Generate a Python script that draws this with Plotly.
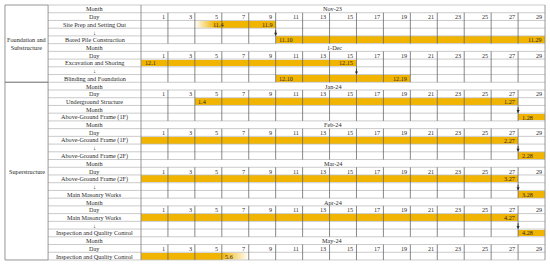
import plotly.graph_objects as go

# ---------------- data ----------------
row_labels = ["Month", "Day", "Site Prep and Setting Out", "↓", "Bored Pile Construction",
              "Month", "Day", "Excavation and Shoring", "↓", "Blinding and Foundation",
              "Month", "Day", "Underground Structure", "Month", "Above-Ground Frame (1F)",
              "Month", "Day", "Above-Ground Frame (1F)", "↓", "Above-Ground Frame (2F)",
              "Month", "Day", "Above-Ground Frame (2F)", "↓", "Main Masonry Works",
              "Month", "Day", "Main Masonry Works", "↓", "Inspection and Quality Control",
              "Month", "Day", "Inspection and Quality Control"]

month_rows = [0, 5, 10, 15, 20, 25, 30]
month_names = ["Nov-23", "1-Dec", "Jan-24", "Feb-24", "Mar-24", "Apr-24", "May-24"]
day_rows = [1, 6, 11, 16, 21, 26, 31]
day_ticks = [1, 3, 5, 7, 9, 11, 13, 15, 17, 19, 21, 23, 25, 27, 29]

group_names = ["Foundation and<br>Substructure", "Superstructure"]
group_first = [0, 10]
group_last = [9, 32]

# solid bars (row, start, end) in day-column units
bar_rows = [2, 4, 7, 9, 12, 14, 17, 19, 22, 24, 27, 29, 32]
bar_start = [5.5, 10, 0, 10, 4, 28, 0, 28, 0, 28, 0, 28, 0]
bar_end = [10, 30, 16, 20, 28, 30, 28, 30, 28, 30, 28, 30, 6]

# fading (gradient) bar ends: row, start, end, direction
fade_rows = [2, 32]
fade_start = [4, 6]
fade_end = [5.5, 8]
fade_in = [True, False]

# date labels: row, x, text, anchor
lab_rows = [2, 2, 4, 4, 7, 7, 9, 9, 12, 12, 14, 17, 19, 22, 24, 27, 29, 32]
lab_x = [5.1, 10, 10, 30, 0, 16, 10, 20, 4, 28, 28, 28, 28, 28, 28, 28, 28, 6]
lab_text = ["11.4", "11.9", "11.10", "11.29", "12.1", "12.15", "12.10", "12.19",
            "1.4", "1.27", "1.28", "2.27", "2.28", "3.27", "3.28", "4.27", "4.28", "5.6"]
lab_side = ["l", "r", "l", "r", "l", "r", "l", "r", "l", "r", "l", "r", "l", "r", "l", "r", "l", "l"]

# dependency arrows: row, x
arrow_rows = [3, 8, 13, 18, 23, 28]
arrow_x = [10, 16, 28, 28, 28, 28]

# ---------------- layout constants ----------------
X_LEFT, X_SPLIT, X_DATA0, X_DATA1 = -10.1, -6.9, 0, 30
GOLD = "#F1B400"
FONT = "Liberation Serif"
FS = 6.2
TXT = "#2a2a2a"
N = len(row_labels)

fig = go.Figure()

fig.add_trace(go.Bar(
    y=bar_rows, x=[e - s for s, e in zip(bar_start, bar_end)], base=bar_start,
    orientation="h", width=0.88, marker=dict(color=GOLD, line=dict(width=0)),
    hoverinfo="skip", showlegend=False))

for r, s, e, fi in zip(fade_rows, fade_start, fade_end, fade_in):
    cs = [[0, "rgba(241,180,0,0)"], [1, GOLD]] if fi else [[0, GOLD], [1, "rgba(241,180,0,0)"]]
    fig.add_trace(go.Scatter(
        x=[s, e, e, s, s], y=[r - 0.44, r - 0.44, r + 0.44, r + 0.44, r - 0.44],
        mode="lines", line=dict(width=0), fill="toself",
        fillgradient=dict(type="horizontal", colorscale=cs),
        hoverinfo="skip", showlegend=False))

shapes = []
hc, vc, bc = "#bdbdbd", "#6a6a6a", "#8a8a8a"
# horizontal row lines
for i in range(N + 1):
    y = i - 0.5
    shapes.append(dict(type="line", x0=X_SPLIT, x1=X_DATA1, y0=y, y1=y,
                       line=dict(color=hc, width=0.8)))
for g0, g1 in zip(group_first, group_last):
    for y in (g0 - 0.5, g1 + 0.5):
        shapes.append(dict(type="line", x0=X_LEFT, x1=X_SPLIT, y0=y, y1=y,
                           line=dict(color=bc, width=0.9)))
# full-height vertical lines
for x in (X_LEFT, X_SPLIT, X_DATA0, X_DATA1):
    shapes.append(dict(type="line", x0=x, x1=x, y0=-0.5, y1=N - 0.5,
                       line=dict(color=bc, width=0.9)))
# day column lines in non-month rows
segs = []
cur = None
for r in range(N):
    if r in month_rows:
        if cur is not None:
            segs.append(cur)
            cur = None
    else:
        cur = [cur[0], r] if cur else [r, r]
if cur:
    segs.append(cur)
for a, b in segs:
    for k in range(1, len(day_ticks)):
        x = 2 * k
        shapes.append(dict(type="line", x0=x, x1=x, y0=a - 0.5, y1=b + 0.5,
                           line=dict(color=vc, width=0.8)))

ann = []
def txt(x, y, t, xa="center", size=FS):
    ann.append(dict(x=x, y=y, text=t, showarrow=False, xanchor=xa, yanchor="middle",
                    font=dict(family=FONT, size=size, color=TXT)))

for r, t in enumerate(row_labels):
    txt((X_SPLIT + X_DATA0) / 2, r, t)
for g, a, b in zip(group_names, group_first, group_last):
    txt((X_LEFT + X_SPLIT) / 2, (a + b) / 2, g)
for r, m in zip(month_rows, month_names):
    txt(15.1, r, m, "right")
for r in day_rows:
    for k, d in enumerate(day_ticks):
        txt(2 * k + 1.9, r, str(d), "right")
for r, x, t, s in zip(lab_rows, lab_x, lab_text, lab_side):
    if s == "l":
        txt(x + 0.12, r, t, "left")
    else:
        txt(x - 0.08, r, t, "right")
for r, x in zip(arrow_rows, arrow_x):
    ann.append(dict(x=x, y=r + 0.5, ax=x, ay=r - 0.45, xref="x", yref="y",
                    axref="x", ayref="y", text="", showarrow=True, arrowhead=2,
                    arrowsize=0.7, arrowwidth=0.9, arrowcolor="#333"))

fig.update_layout(
    width=550, height=266, autosize=False,
    margin=dict(l=0, r=0, t=0, b=0),
    paper_bgcolor="white", plot_bgcolor="white",
    xaxis=dict(range=[-10.47, 30.37], visible=False, fixedrange=True),
    yaxis=dict(range=[33.28, -1.147], visible=False, fixedrange=True),
    shapes=shapes, annotations=ann, bargap=0, showlegend=False)

fig.write_html("out.html", config={"displayModeBar": False},
               post_script="document.body.style.margin='0';document.body.style.overflow='hidden';")
